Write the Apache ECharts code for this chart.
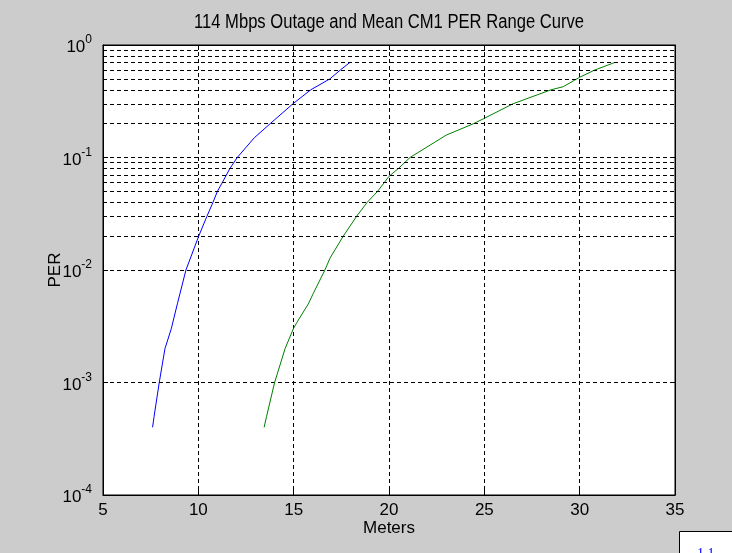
<!DOCTYPE html>
<html><head><meta charset="utf-8">
<script src="https://cdn.jsdelivr.net/npm/echarts@6/dist/echarts.min.js"></script>
<style>html,body{margin:0;padding:0;background:#cccccc;}#c{width:732px;height:553px;}</style>
</head><body><div id="c"></div>
<script>
const titleText = '114 Mbps Outage and Mean CM1 PER Range Curve';
const xName = 'Meters';
const yName = 'PER';
const xTicks = [5, 10, 15, 20, 25, 30, 35];
const yDecades = [1e-4, 1e-3, 1e-2, 1e-1, 1];
const minorMultipliers = [2, 3, 4, 5, 6, 7, 8, 9];

const blueMeters = [7.6, 7.68, 7.95, 8.25, 8.58, 8.9, 9.35, 10.02, 10.45, 10.77, 11.0, 11.26, 11.66, 12.04, 12.94, 13.77, 14.96, 15.9, 16.9, 17.45, 17.95];
const bluePER    = [4e-4, 5e-4, 1e-3, 2e-3, 3e-3, 5e-3, 1e-2, 2e-2, 3e-2, 4e-2, 5e-2, 6e-2, 8e-2, 0.1, 0.15, 0.2, 0.3, 0.4, 0.5, 0.6, 0.7];

const greenMeters = [13.45, 13.58, 14.0, 14.55, 14.98, 15.16, 15.77, 16.03, 16.64, 16.9, 17.6, 18.3, 18.86, 19.4, 20.0, 20.5, 21.1, 23.0, 24.44, 25.0, 26.5, 28.5, 29.14, 30.0, 30.8, 31.85];
const greenPER    = [4e-4, 5e-4, 1e-3, 2e-3, 3e-3, 3.4e-3, 5e-3, 6.2e-3, 1e-2, 1.27e-2, 2e-2, 3e-2, 4e-2, 5e-2, 6.8e-2, 8e-2, 0.1, 0.158, 0.2, 0.223, 0.3, 0.4, 0.426, 0.517, 0.6, 0.7];

const FONT = "'Liberation Sans',Arial,Helvetica,sans-serif";

const minorLines = [];
yDecades.slice(0, -1).forEach(d => minorMultipliers.forEach(m => minorLines.push({ yAxis: d * m })));

const chart = echarts.init(document.getElementById('c'), null, { renderer: 'canvas' });
const L = 103, T = 45, W = 572, H = 450;

chart.setOption({
  backgroundColor: '#cccccc',
  animation: false,
  grid: { left: L, top: T, width: W, height: H, show: true, backgroundColor: '#ffffff', borderColor: '#000', borderWidth: 1 },
  xAxis: [{
    type: 'value', min: xTicks[0], max: xTicks[xTicks.length - 1], interval: 5,
    name: xName, nameLocation: 'middle', nameGap: 25, nameMoveOverlap: false,
    nameTextStyle: { fontFamily: FONT, fontSize: 17, color: '#000', verticalAlign: 'top' },
    axisLine: { show: true, lineStyle: { color: '#000', width: 1 } },
    axisTick: { show: true, inside: true, length: 5, lineStyle: { color: '#000' } },
    axisLabel: { show: true, margin: 7, fontFamily: FONT, fontSize: 17, color: '#000' },
    splitLine: { show: true, lineStyle: { color: '#000', type: [4, 3], width: 1 } }
  }, {
    type: 'value', position: 'top', min: xTicks[0], max: xTicks[xTicks.length - 1], interval: 5,
    axisLine: { show: true, lineStyle: { color: '#000' } },
    axisTick: { show: true, inside: true, length: 5, lineStyle: { color: '#000' } },
    axisLabel: { show: false }, splitLine: { show: false }
  }],
  yAxis: [{
    type: 'log', logBase: 10, min: yDecades[0], max: yDecades[yDecades.length - 1],
    name: yName, nameLocation: 'middle', nameGap: 39, nameRotate: 90, nameMoveOverlap: false,
    nameTextStyle: { fontFamily: FONT, fontSize: 17, color: '#000' },
    axisLine: { show: true, lineStyle: { color: '#000', width: 1 } },
    axisTick: { show: true, inside: true, length: 5, lineStyle: { color: '#000' } },
    axisLabel: {
      show: true, margin: 11, showMinLabel: true, showMaxLabel: true,
      formatter: v => '{b|10}{s|' + Math.round(Math.log10(v)) + '}',
      rich: {
        b: { fontFamily: FONT, fontSize: 17, color: '#000', lineHeight: 22, verticalAlign: 'bottom' },
        s: { fontFamily: FONT, fontSize: 12, color: '#000', lineHeight: 12, verticalAlign: 'top' }
      }
    },
    splitLine: { show: true, lineStyle: { color: '#000', type: [4, 3], width: 1 } }
  }, {
    type: 'log', logBase: 10, position: 'right', min: yDecades[0], max: yDecades[yDecades.length - 1],
    axisLine: { show: true, lineStyle: { color: '#000' } },
    axisTick: { show: true, inside: true, length: 5, lineStyle: { color: '#000' } },
    axisLabel: { show: false }, splitLine: { show: false }
  }],
  series: [{
    type: 'line', xAxisIndex: 0, yAxisIndex: 0, data: [], silent: true,
    markLine: { silent: true, symbol: ['none', 'none'], label: { show: false },
      lineStyle: { color: '#000', type: [4, 3], width: 1 }, data: minorLines, animation: false }
  }, {
    type: 'line', name: 'Outage', showSymbol: false, symbol: 'none',
    data: blueMeters.map((m, i) => [m, bluePER[i]]),
    lineStyle: { color: '#0000ff', width: 1 }, itemStyle: { color: '#0000ff' }
  }, {
    type: 'line', name: 'Mean', showSymbol: false, symbol: 'none',
    data: greenMeters.map((m, i) => [m, greenPER[i]]),
    lineStyle: { color: '#008000', width: 1 }, itemStyle: { color: '#008000' }
  }],
  graphic: [{
    type: 'text', x: L + W / 2, y: 22, scaleX: 0.83,
    style: { text: titleText, font: '20px ' + FONT, fill: '#000', align: 'center', verticalAlign: 'middle', textAlign: 'center', textVerticalAlign: 'middle' }
  }, {
    type: 'rect', shape: { x: 679.5, y: 531.5, width: 80, height: 40 },
    style: { fill: '#ffffff', stroke: '#000', lineWidth: 1 }
  }, {
    type: 'text', x: 697, y: 547,
    style: { text: '1 1', font: '14px "Liberation Serif", serif', fill: '#0000ff', verticalAlign: 'top', textVerticalAlign: 'top' }
  }]
});
</script></body></html>
